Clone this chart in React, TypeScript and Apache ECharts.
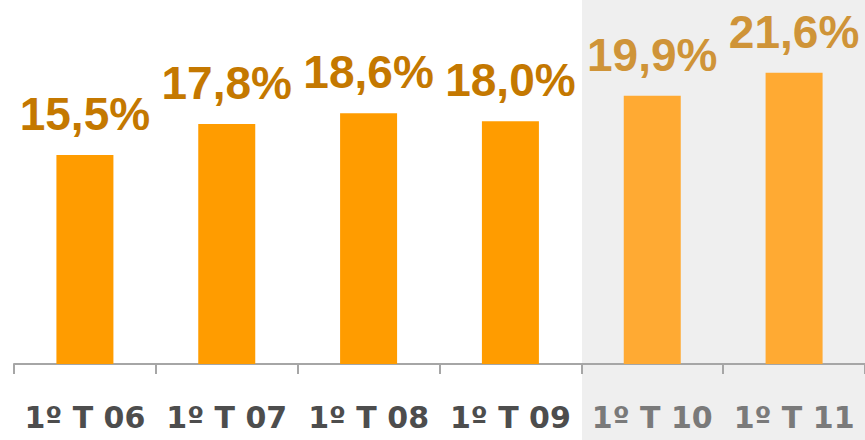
import React, { useEffect, useRef } from "react";
import * as echarts from "echarts";

const categories = ["1º T 06", "1º T 07", "1º T 08", "1º T 09", "1º T 10", "1º T 11"];
const values = [15.5, 17.8, 18.6, 18.0, 19.9, 21.6];
const valueLabels = ["15,5%", "17,8%", "18,6%", "18,0%", "19,9%", "21,6%"];
const projected = [false, false, false, false, true, true];

export default function App() {
  const ref = useRef<HTMLDivElement>(null);
  useEffect(() => {
    if (!ref.current) return;
    const chart = echarts.init(ref.current, null, { renderer: "svg" });
    const font = "'Liberation Sans', Arial, sans-serif";
    const axisFont = "'DejaVu Sans', sans-serif";
    chart.setOption({
      animation: false,
      backgroundColor: "#ffffff",
      graphic: [
        {
          type: "rect",
          z: -10,
          silent: true,
          shape: { x: 582, y: 0, width: 283, height: 440 },
          style: { fill: "#EFEFEF" },
        },
      ],
      grid: { left: 14, right: 0, top: 0, bottom: 76 },
      xAxis: {
        type: "category",
        data: categories,
        axisLine: { show: true, lineStyle: { color: "#A6A6A6", width: 2 } },
        axisTick: { show: true, length: 10, lineStyle: { color: "#A6A6A6", width: 2 } },
        axisLabel: {
          margin: 38,
          formatter: (v: string, i: number) => `{${projected[i] ? "p" : "a"}|${v}}`,
          rich: {
            a: { fontFamily: axisFont, fontWeight: "bold", fontSize: 30, color: "#4D4D4D" },
            p: { fontFamily: axisFont, fontWeight: "bold", fontSize: 30, color: "#7A7A7A" },
          },
        },
      },
      yAxis: { type: "value", min: 0, max: 27, show: false, splitLine: { show: false } },
      series: [
        {
          type: "bar",
          barWidth: 57,
          data: values.map((v, i) => ({
            value: v,
            itemStyle: { color: projected[i] ? "#FFAA33" : "#FF9C00" },
            label: { color: projected[i] ? "#CF9438" : "#C47800" },
          })),
          label: {
            show: true,
            position: "top",
            distance: 18,
            fontFamily: font,
            fontWeight: "bold",
            fontSize: 46,
            formatter: (p: any) => valueLabels[p.dataIndex],
          },
        },
      ],
    });
    return () => chart.dispose();
  }, []);
  return <div ref={ref} style={{ width: 865, height: 440, position: "absolute", left: 0, top: 0 }} />;
}
